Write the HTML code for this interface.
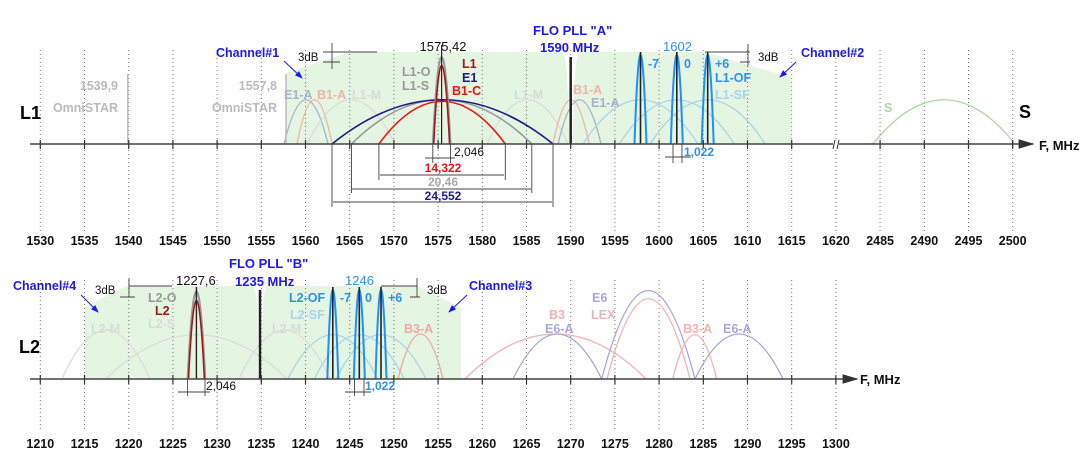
<!DOCTYPE html>
<html><head><meta charset="utf-8"><style>
html,body{margin:0;padding:0;background:#fff;width:1088px;height:470px;overflow:hidden}
svg text{font-family:"Liberation Sans",Arial,sans-serif;font-weight:bold;font-size:12.5px}
</style></head><body>
<svg width="1088" height="470" viewBox="0 0 1088 470" xmlns="http://www.w3.org/2000/svg">
<defs>
<marker id="ar" markerWidth="8" markerHeight="6" refX="7" refY="3" orient="auto"><path d="M0,0 L8,3 L0,6 Z" fill="#1a1aee"/></marker>
<marker id="ax" markerWidth="10" markerHeight="6" refX="9" refY="3" orient="auto"><path d="M0,0 L10,3 L0,6 Z" fill="#333"/></marker>
</defs>
<path d="M286 144 L286 73 L350 52 L560 52 C566 52 568 60 569 144 L573 144 C574 60 576 52 582 52 L705 52 L792 78 L792 144 Z" fill="#e4f5e1"/>
<path d="M85 379 L85 307 L127 286 L253 286 C258 290 258 330 258 379 L262 379 C262 330 262 290 267 286 L417 286 L461 308 L461 379 Z" fill="#e4f5e1"/>

<g stroke="#777" stroke-width="1" stroke-dasharray="1,3">
<path d="M40.3 50V232M84.5 50V232M128.7 50V232M172.9 50V232M217.1 50V232M261.3 50V232M305.5 50V232M349.7 50V232M393.9 50V232M438.1 50V232M482.3 50V232M526.5 50V232M570.7 50V232M614.9 50V232M659.1 50V232M703.3 50V232M747.5 50V232M791.7 50V232M835.9 50V232M880.1 50V232M924.3 50V232M968.5 50V232M1012.7 50V232"/>
<path d="M40.3 280V432M84.5 280V432M128.7 280V432M172.9 280V432M217.1 280V432M261.3 280V432M305.5 280V432M349.7 280V432M393.9 280V432M438.1 280V432M482.3 280V432M526.5 280V432M570.7 280V432M614.9 280V432M659.1 280V432M703.3 280V432M747.5 280V432M791.7 280V432M835.9 280V432"/>
</g>

<g fill="none" stroke-width="1.3">
<path d="M284 144 C298.5 85 313.5 85 328 144" stroke="#a8b0d8"/>
<path d="M297 144 C308.6 85 320.4 85 332 144" stroke="#f0b4a4"/>
<path d="M307 144 C336 85 366 85 395 144" stroke="#d8dcd8"/>
<path d="M487 144 C513.7 85 541.3 85 568 144" stroke="#d8dcd8"/>
<path d="M553 144 C565 85 577 85 589 144" stroke="#f0b4a4"/>
<path d="M558 144 C572 85 587 85 601 144" stroke="#a8b0d0"/>
<path d="M583 144 C621 85 660 85 698 144" stroke="#a8d4ee"/>
<path d="M619.3 144 C657.3 85 696.3 85 734.3 144" stroke="#a8d4ee"/>
<path d="M650.2 144 C688.2 85 727.2 85 765.2 144" stroke="#a8d4ee"/>
<path d="M873 144 C920 85 968 85 1015 144" stroke="#a8d8a0"/>
<path d="M351.5 144 C411 85 472.3 85 531.8 144" stroke="#999" stroke-width="1.6"/>
<path d="M332 144 C405 85 480 85 553 144" stroke="#1a1a8c" stroke-width="1.6"/>
<path d="M378.9 144 C420.6 87 463.6 87 505.3 144" stroke="#ee1111" stroke-width="1.6"/>
<path d="M432.8 144 C438.6 28 444.7 28 450.5 144" stroke="#999" stroke-width="2"/>
<path d="M433.7 144 C439 39 444.3 39 449.6 144" stroke="#a01818" stroke-width="1.6"/>
<path d="M634.5 144 C638.5 25 642.5 25 646.5 144" stroke="#1e8fff" stroke-width="2"/>
<path d="M670.8 144 C674.8 25 678.8 25 682.8 144" stroke="#1e8fff" stroke-width="2"/>
<path d="M701.7 144 C705.7 25 709.7 25 713.7 144" stroke="#1e8fff" stroke-width="2"/>
</g>
<g stroke="#222">
<path d="M441.6 45V144" stroke-width="1.2"/>
<path d="M570.7 57V144" stroke-width="2.5"/>
<path d="M640.5 52V144M676.8 52V144M707.7 52V144" stroke-width="1.6"/>
</g>
<path d="M127.8 74V144M286 74V144" stroke="#bbb" stroke-width="1.5"/>

<line x1="30" y1="144" x2="1033" y2="144" stroke="#444" stroke-width="1.6" marker-end="url(#ax)"/>
<g stroke="#333" stroke-width="1.2">
<path d="M40.3 140V149M84.5 140V149M128.7 140V149M172.9 140V149M217.1 140V149M261.3 140V149M305.5 140V149M349.7 140V149M393.9 140V149M438.1 140V149M482.3 140V149M526.5 140V149M570.7 140V149M614.9 140V149M659.1 140V149M703.3 140V149M747.5 140V149M791.7 140V149M880.1 140V149M924.3 140V149M968.5 140V149M1012.7 140V149"/>
</g>
<rect x="833" y="140" width="6" height="9" fill="#fff"/>
<path d="M833 149 L835 140 M837 149 L839 140" stroke="#333" stroke-width="1"/>

<g stroke="#444" stroke-width="0.9" fill="none">
<path d="M432.8 144V163M450.5 144V163M425 158H455"/>
<path d="M378.9 144V180M505.3 144V180M380 175H504"/>
<path d="M351.5 144V193M531.8 144V193M352 189H531"/>
<path d="M332 144V207M553 144V207M333 202H552"/>
<path d="M673 144V163M682 144V163M665 157H691"/>
<path d="M323 52H377M323 62H340M332 43V69"/>
<path d="M705 52H750M740 62H750M748 44V66"/>
</g>

<text x="216" y="57" fill="#1a1aee">Channel#1</text>
<line x1="284" y1="61" x2="302" y2="78" stroke="#1a1aee" stroke-width="1" marker-end="url(#ar)"/>
<text x="118" y="90" fill="#bbb" text-anchor="end">1539,9</text>
<text x="118" y="112" fill="#bbb" text-anchor="end">OmniSTAR</text>
<text x="277" y="90" fill="#bbb" text-anchor="end">1557,8</text>
<text x="277" y="112" fill="#bbb" text-anchor="end">OmniSTAR</text>
<text x="20" y="119" fill="#000" style="font-size:18px">L1</text>
<text x="298" y="61" fill="#111" style="font-size:11.5px;font-weight:normal">3dB</text>
<text x="443" y="51" fill="#111" text-anchor="middle" style="font-size:13px;font-weight:normal">1575,42</text>
<text x="462" y="68" fill="#a01818">L1</text>
<text x="462" y="82" fill="#1a1a8c">E1</text>
<text x="452" y="95" fill="#ee1111">B1-C</text>
<text x="402" y="76" fill="#999">L1-O</text>
<text x="402" y="90" fill="#999">L1-S</text>
<text x="284" y="99" fill="#a8b0d8">E1-A</text>
<text x="317" y="99" fill="#f0b4a4">B1-A</text>
<text x="352" y="99" fill="#d8dcd8">L1-M</text>
<text x="514" y="99" fill="#d8dcd8">L1-M</text>
<text x="573" y="94" fill="#f0b4a4">B1-A</text>
<text x="591" y="107" fill="#a8b0d0">E1-A</text>
<text x="454" y="156" fill="#111" style="font-weight:normal;font-size:12px">2,046</text>
<text x="443" y="172" fill="#ee1111" text-anchor="middle" style="font-size:12px">14,322</text>
<text x="443" y="186" fill="#aaa" text-anchor="middle" style="font-size:12px">20,46</text>
<text x="443" y="200" fill="#1a1a8c" text-anchor="middle" style="font-size:12px">24,552</text>
<text x="533" y="35" fill="#1a1aee" style="font-size:13px">FLO PLL "A"</text>
<text x="540" y="52" fill="#1a1aee" style="font-size:13px">1590 MHz</text>
<text x="663" y="51" fill="#2f8fef" style="font-size:13px;font-weight:normal">1602</text>
<text x="648" y="68" fill="#2f8fef">-7</text>
<text x="684" y="68" fill="#2f8fef">0</text>
<text x="715" y="68" fill="#2f8fef">+6</text>
<text x="715" y="82" fill="#2f8fef">L1-OF</text>
<text x="715" y="99" fill="#a8d4ee">L1-SF</text>
<text x="684" y="156" fill="#2f8fef" style="font-size:12px">1,022</text>
<text x="758" y="61" fill="#111" style="font-size:11.5px;font-weight:normal">3dB</text>
<text x="801" y="57" fill="#1a1aee">Channel#2</text>
<line x1="796" y1="62" x2="780" y2="77" stroke="#1a1aee" stroke-width="1" marker-end="url(#ar)"/>
<text x="884" y="112" fill="#a8d8a0">S</text>
<text x="1019" y="118" fill="#000" style="font-size:18px">S</text>
<text x="1039" y="150" fill="#111" style="font-size:13px">F, MHz</text>

<g text-anchor="middle" fill="#111" style="font-size:13px">
<text x="40.3" y="245">1530</text><text x="84.5" y="245">1535</text><text x="128.7" y="245">1540</text><text x="172.9" y="245">1545</text><text x="217.1" y="245">1550</text><text x="261.3" y="245">1555</text><text x="305.5" y="245">1560</text><text x="349.7" y="245">1565</text><text x="393.9" y="245">1570</text><text x="438.1" y="245">1575</text><text x="482.3" y="245">1580</text><text x="526.5" y="245">1585</text><text x="570.7" y="245">1590</text><text x="614.9" y="245">1595</text><text x="659.1" y="245">1600</text><text x="703.3" y="245">1605</text><text x="747.5" y="245">1610</text><text x="791.7" y="245">1615</text><text x="835.9" y="245">1620</text><text x="880.1" y="245">2485</text><text x="924.3" y="245">2490</text><text x="968.5" y="245">2495</text><text x="1012.7" y="245">2500</text>
</g>

<g fill="none" stroke-width="1.3">
<path d="M62 379 C91 314 121 314 150 379" stroke="#dcdcdc"/>
<path d="M106 379 C165.7 320 227.3 320 287 379" stroke="#dcdcdc"/>
<path d="M239 379 C269 314 300 314 330 379" stroke="#dcdcdc"/>
<path d="M287.8 379 C317.5 320 348.1 320 377.8 379" stroke="#a8d4ee"/>
<path d="M314.3 379 C344 320 374.6 320 404.3 379" stroke="#a8d4ee"/>
<path d="M336 379 C365.7 320 396.3 320 426 379" stroke="#a8d4ee"/>
<path d="M398 379 C413 319 428 319 443 379" stroke="#f0a8a0"/>
<path d="M465 379 C524.7 319 586.3 319 646 379" stroke="#f8b0b0"/>
<path d="M513 379 C542.3 319 572.4 319 601.7 379" stroke="#a8a8d8"/>
<path d="M601.7 379 C632.5 261 664.2 261 695 379" stroke="#a8a8d8"/>
<path d="M607 379 C634.4 272 662.6 272 690 379" stroke="#f8b0b0"/>
<path d="M672.7 379 C687.2 320 702.2 320 716.7 379" stroke="#f8b0b0"/>
<path d="M695 379 C724 319 754 319 783 379" stroke="#a8a8d8"/>
<path d="M187.6 379 C193.4 262 199.5 262 205.3 379" stroke="#999" stroke-width="2"/>
<path d="M188.5 379 C193.7 274 199.2 274 204.4 379" stroke="#a01818" stroke-width="1.6"/>
<path d="M327.3 379 C331 260 334.6 260 338.3 379" stroke="#1e8fff" stroke-width="2"/>
<path d="M353.8 379 C357.5 260 361.1 260 364.8 379" stroke="#1e8fff" stroke-width="2"/>
<path d="M375.5 379 C379.2 260 382.8 260 386.5 379" stroke="#1e8fff" stroke-width="2"/>
</g>
<g stroke="#222">
<path d="M196.4 287V379" stroke-width="1.4"/>
<path d="M260 290V379" stroke-width="2.5"/>
<path d="M332.8 287V379M359.3 287V379M381 287V379" stroke-width="1.6"/>
</g>

<line x1="30" y1="379" x2="857" y2="379" stroke="#444" stroke-width="1.6" marker-end="url(#ax)"/>
<g stroke="#333" stroke-width="1.2">
<path d="M40.3 375V384M84.5 375V384M128.7 375V384M172.9 375V384M217.1 375V384M261.3 375V384M305.5 375V384M349.7 375V384M393.9 375V384M438.1 375V384M482.3 375V384M526.5 375V384M570.7 375V384M614.9 375V384M659.1 375V384M703.3 375V384M747.5 375V384M791.7 375V384M835.9 375V384"/>
</g>
<g stroke="#444" stroke-width="0.9" fill="none">
<path d="M187.6 379V396M205 379V396M178 392H210"/>
<path d="M354.5 379V396M364 379V396M345 392H371"/>
<path d="M129 286H172M120 297H135M129 278V297"/>
<path d="M381 286H417M410 297H420M417 278V297"/>
</g>

<text x="13" y="290" fill="#1a1aee">Channel#4</text>
<line x1="81" y1="295" x2="98" y2="312" stroke="#1a1aee" stroke-width="1" marker-end="url(#ar)"/>
<text x="95" y="294" fill="#111" style="font-size:11.5px;font-weight:normal">3dB</text>
<text x="176" y="285" fill="#111" style="font-size:13px;font-weight:normal">1227,6</text>
<text x="229" y="268" fill="#1a1aee" style="font-size:13px">FLO PLL "B"</text>
<text x="235" y="286" fill="#1a1aee" style="font-size:13px">1235 MHz</text>
<text x="148" y="302" fill="#999">L2-O</text>
<text x="155" y="315" fill="#a01818">L2</text>
<text x="148" y="328" fill="#d8dcd8">L2-S</text>
<text x="91" y="333" fill="#d8dcd8">L2-M</text>
<text x="272" y="333" fill="#d8dcd8">L2-M</text>
<text x="19" y="353" fill="#000" style="font-size:18px">L2</text>
<text x="345" y="285" fill="#2f8fef" style="font-size:13px;font-weight:normal">1246</text>
<text x="289" y="302" fill="#2f8fef">L2-OF</text>
<text x="340" y="302" fill="#2f8fef">-7</text>
<text x="365" y="302" fill="#2f8fef">0</text>
<text x="388" y="302" fill="#2f8fef">+6</text>
<text x="290" y="319" fill="#a8d4ee">L2-SF</text>
<text x="404" y="333" fill="#f0a8a0">B3-A</text>
<text x="427" y="294" fill="#111" style="font-size:11.5px;font-weight:normal">3dB</text>
<text x="469" y="290" fill="#1a1aee">Channel#3</text>
<line x1="467" y1="295" x2="449" y2="312" stroke="#1a1aee" stroke-width="1" marker-end="url(#ar)"/>
<text x="206" y="390" fill="#111" style="font-weight:normal;font-size:12px">2,046</text>
<text x="365" y="390" fill="#2f8fef" style="font-size:12px">1,022</text>
<text x="592" y="302" fill="#a8a8d8">E6</text>
<text x="549" y="319" fill="#f8b0b0">B3</text>
<text x="591" y="319" fill="#e0b8b8">LEX</text>
<text x="545" y="333" fill="#a8a8d8">E6-A</text>
<text x="683" y="333" fill="#f8b0b0">B3-A</text>
<text x="723" y="333" fill="#a8a8d8">E6-A</text>
<text x="860" y="384" fill="#111" style="font-size:13px">F, MHz</text>

<g text-anchor="middle" fill="#111" style="font-size:13px">
<text x="40.3" y="448">1210</text><text x="84.5" y="448">1215</text><text x="128.7" y="448">1220</text><text x="172.9" y="448">1225</text><text x="217.1" y="448">1230</text><text x="261.3" y="448">1235</text><text x="305.5" y="448">1240</text><text x="349.7" y="448">1245</text><text x="393.9" y="448">1250</text><text x="438.1" y="448">1255</text><text x="482.3" y="448">1260</text><text x="526.5" y="448">1265</text><text x="570.7" y="448">1270</text><text x="614.9" y="448">1275</text><text x="659.1" y="448">1280</text><text x="703.3" y="448">1285</text><text x="747.5" y="448">1290</text><text x="791.7" y="448">1295</text><text x="835.9" y="448">1300</text>
</g>
</svg>
</body></html>
